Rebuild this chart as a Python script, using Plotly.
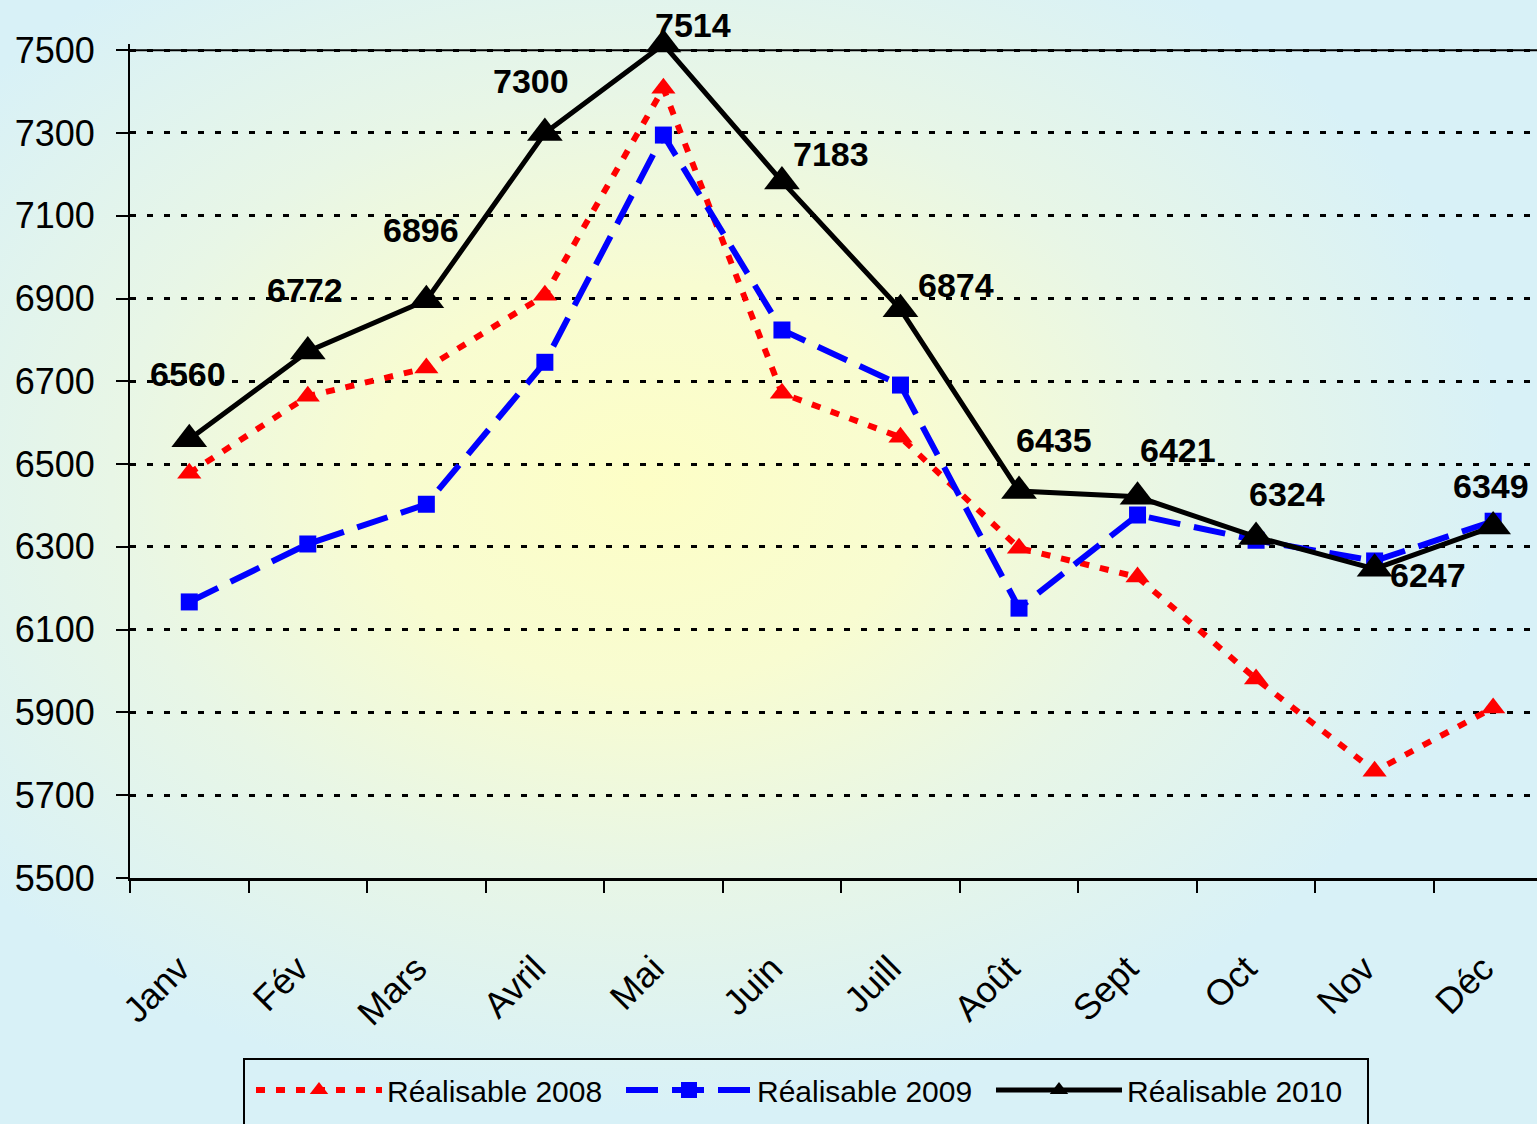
import base64
import plotly.graph_objects as go

months = ["Janv", "Fév", "Mars", "Avril", "Mai", "Juin", "Juill", "Août", "Sept", "Oct", "Nov", "Déc"]
real_2008 = [6478, 6664, 6732, 6908, 7408, 6671, 6565, 6297, 6227, 5981, 5758, 5911]
real_2009 = [6167, 6307, 6403, 6746, 7295, 6824, 6691, 6152, 6377, 6316, 6266, 6362]
real_2010 = [6560, 6772, 6896, 7300, 7514, 7183, 6874, 6435, 6421, 6324, 6247, 6349]
y_ticks = [5500, 5700, 5900, 6100, 6300, 6500, 6700, 6900, 7100, 7300, 7500]
series_names = ["Réalisable 2008", "Réalisable 2009", "Réalisable 2010"]

# label offsets (px) for 2010 data labels: (xshift, yshift)
label_offsets = [(-1, 65), (-3, 62), (-5, 70), (-14, 52), (30, 19), (49, 27),
                 (56, 24), (35, 51), (40, 47), (31, 43), (53, -6), (-2, 41)]

W, H = 1537, 1124
Y_MIN, Y_MAX, Y_TOP = 5500, 7500, 7515
ML, MR, MB = 130, 0, 246
PX_PER_UNIT = (H - MB - 50) / (Y_MAX - Y_MIN)
MT = int(round(H - MB - (Y_TOP - Y_MIN) * PX_PER_UNIT))
PW, PH = W - ML - MR, H - MT - MB

FONT = "Liberation Sans, Arial, sans-serif"

svg = f'''<svg xmlns="http://www.w3.org/2000/svg" width="{W}" height="{H}" viewBox="0 0 {W} {H}" preserveAspectRatio="none">
<defs><radialGradient id="g" cx="0.42" cy="0.43" r="0.56">
<stop offset="0" stop-color="#fdfec6"/>
<stop offset="0.32" stop-color="#f8fcd1"/>
<stop offset="0.62" stop-color="#e8f6e6"/>
<stop offset="1" stop-color="#d8f1f7"/>
</radialGradient></defs>
<rect width="{W}" height="{H}" fill="url(#g)"/></svg>'''
bg_src = "data:image/svg+xml;base64," + base64.b64encode(svg.encode()).decode()

fig = go.Figure()
fig.add_trace(go.Scatter(
    x=months, y=real_2008, name=series_names[0], mode="lines+markers",
    line=dict(color="#ff0000", width=6, dash="9px,11px"),
    marker=dict(symbol="triangle-up", size=21, color="#ff0000"),
    cliponaxis=False,
))
fig.add_trace(go.Scatter(
    x=months, y=real_2009, name=series_names[1], mode="lines+markers",
    line=dict(color="#0000ff", width=6, dash="32px,14px"),
    marker=dict(symbol="square", size=17, color="#0000ff"),
    cliponaxis=False,
))
fig.add_trace(go.Scatter(
    x=months, y=real_2010, name=series_names[2], mode="lines+markers",
    line=dict(color="#000000", width=5),
    marker=dict(symbol="triangle-up", size=31, color="#000000"),
    cliponaxis=False,
))

annotations = []
for m, v, (dx, dy) in zip(months, real_2010, label_offsets):
    annotations.append(dict(
        x=m, y=v, xref="x", yref="y", text=str(v), showarrow=False,
        xshift=dx, yshift=dy, xanchor="center", yanchor="middle",
        font=dict(family=FONT, size=34, color="#000000", weight="bold"),
    ))

def px_x(px):
    return (px - ML) / PW

def px_y(py):
    return (H - MB - py) / PH

shapes = [
    dict(type="line", xref="paper", yref="y", x0=0, x1=1, y0=Y_MAX, y1=Y_MAX,
         line=dict(color="#000000", width=2), layer="below"),
    dict(type="rect", xref="paper", yref="paper",
         x0=px_x(244), x1=px_x(1368), y0=px_y(1059), y1=px_y(1140),
         line=dict(color="#000000", width=2), fillcolor="rgba(0,0,0,0)"),
]

fig.update_layout(
    width=W, height=H,
    margin=dict(l=ML, r=MR, t=MT, b=MB, autoexpand=False),
    paper_bgcolor="#dcf2f4",
    plot_bgcolor="rgba(0,0,0,0)",
    images=[dict(source=bg_src, xref="paper", yref="paper",
                 x=px_x(0), y=px_y(0), sizex=W / PW, sizey=H / PH,
                 xanchor="left", yanchor="top", sizing="stretch", layer="below")],
    showlegend=True,
    legend=dict(orientation="h", x=px_x(251), y=px_y(1064), xanchor="left", yanchor="top",
                font=dict(family=FONT, size=30, color="#000000"),
                bgcolor="rgba(0,0,0,0)", borderwidth=0, itemwidth=126,
                entrywidth=229, entrywidthmode="pixels"),
    annotations=annotations,
    shapes=shapes,
    xaxis=dict(
        type="category", categoryorder="array", categoryarray=months,
        range=[-0.5, 11.37], showgrid=False,
        showline=True, linecolor="#000000", linewidth=3,
        ticks="outside", tickson="boundaries", ticklen=12, tickwidth=2, tickcolor="#000000",
        tickangle=-45, ticklabelstandoff=52, ticklabelshift=-10,
        tickfont=dict(family=FONT, size=36, color="#000000"),
        zeroline=False,
    ),
    yaxis=dict(
        range=[Y_MIN, Y_TOP], tickvals=y_ticks, ticktext=[str(t) for t in y_ticks],
        showline=True, linecolor="#000000", linewidth=2,
        ticks="outside", ticklen=12, tickwidth=2, tickcolor="#000000",
        showgrid=True, gridcolor="#000000", gridwidth=2.5, griddash="6px,11px",
        tickfont=dict(family=FONT, size=36, color="#000000"),
        ticklabelstandoff=14, zeroline=False,
    ),
    hovermode=False,
)

fig.write_html("out.html", config={"displayModeBar": False},
               post_script="document.body.style.margin='0';")
